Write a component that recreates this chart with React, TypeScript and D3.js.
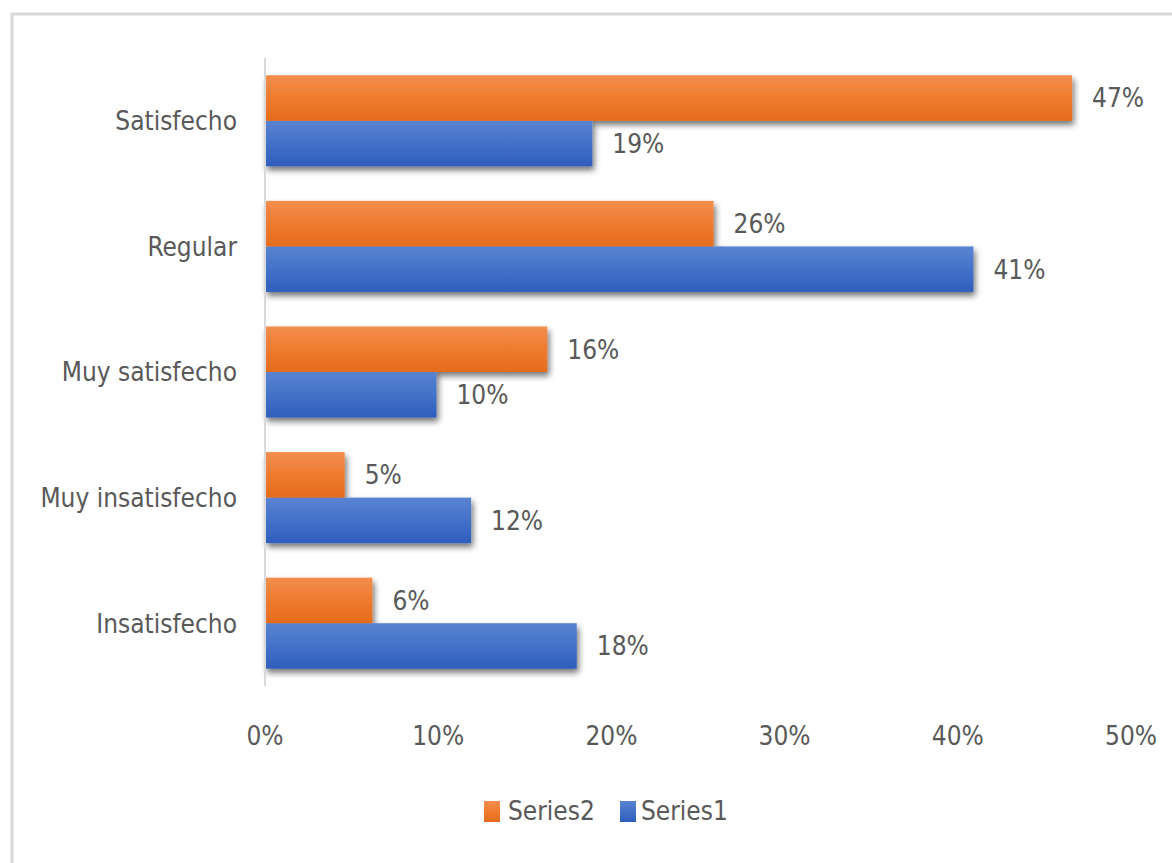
import React from "react";
import * as d3 from "d3";

const categories = ["Satisfecho", "Regular", "Muy satisfecho", "Muy insatisfecho", "Insatisfecho"];
const series2 = [0.466, 0.259, 0.163, 0.046, 0.062];
const series1 = [0.189, 0.409, 0.099, 0.119, 0.18];
const labels2 = ["47%", "26%", "16%", "5%", "6%"];
const labels1 = ["19%", "41%", "10%", "12%", "18%"];
const xTicks = [0, 0.1, 0.2, 0.3, 0.4, 0.5];
const seriesNames = ["Series2", "Series1"];

const FONT = "'Liberation Sans Narrow', 'DejaVu Sans Condensed', 'Arial Narrow', sans-serif";
const TEXT = "#595959";

export default function App() {
  const W = 1172, H = 863;
  const x = d3.scaleLinear().domain([0, 0.5]).range([265, 1131]);
  const y = d3.scaleBand<string>().domain(categories).range([58, 686]).paddingInner(0.275).paddingOuter(0.1375);
  const sub = d3.scaleBand<string>().domain(seriesNames).range([0, y.bandwidth()]);
  const fmt = d3.format(".0%");
  return (
    <svg width={W} height={H} style={{ position: "absolute", left: 0, top: 0, background: "#fff" }} fontFamily={FONT}>
      <defs>
        <linearGradient id="gO" x1="0" y1="0" x2="0" y2="1">
          <stop offset="0" stopColor="#f28e4f" />
          <stop offset="0.5" stopColor="#ef7b2f" />
          <stop offset="1" stopColor="#e56b1c" />
        </linearGradient>
        <linearGradient id="gB" x1="0" y1="0" x2="0" y2="1">
          <stop offset="0" stopColor="#5a83d2" />
          <stop offset="0.5" stopColor="#4371c8" />
          <stop offset="1" stopColor="#2f5ebd" />
        </linearGradient>
        <filter id="sh" x="-5%" y="-20%" width="115%" height="160%">
          <feGaussianBlur in="SourceAlpha" stdDeviation="3" />
          <feOffset dx="2" dy="4" result="b" />
          <feComponentTransfer><feFuncA type="linear" slope="0.55" /></feComponentTransfer>
          <feMerge><feMergeNode /><feMergeNode in="SourceGraphic" /></feMerge>
        </filter>
      </defs>
      <rect x={12} y={14} width={1200} height={900} fill="#fff" stroke="#d9d9d9" strokeWidth={3} />
      {categories.map((c, i) => {
        const y0 = y(c)!;
        const yO = y0 + sub("Series2")!;
        const yB = y0 + sub("Series1")!;
        const bh = sub.bandwidth();
        return (
          <g key={c}>
            <g filter="url(#sh)">
              <rect x={x(0)} y={yB} width={x(series1[i]) - x(0)} height={bh} fill="url(#gB)" />
              <rect x={x(0)} y={yO} width={x(series2[i]) - x(0)} height={bh} fill="url(#gO)" />
            </g>
            <text x={x(series2[i]) + 20} y={yO + bh / 2} dy="0.36em" fontSize={26} fill={TEXT}>{labels2[i]}</text>
            <text x={x(series1[i]) + 20} y={yB + bh / 2} dy="0.36em" fontSize={26} fill={TEXT}>{labels1[i]}</text>
            <text x={237} y={y0 + y.bandwidth() / 2} dy="0.36em" fontSize={26} fill={TEXT} textAnchor="end">{c}</text>
          </g>
        );
      })}
      <line x1={x(0)} x2={x(0)} y1={58} y2={686} stroke="#d9d9d9" strokeWidth={2} />
      {xTicks.map((t) => (
        <text key={t} x={x(t)} y={736} dy="0.36em" fontSize={26} fill={TEXT} textAnchor="middle">{fmt(t)}</text>
      ))}
      <g>
        <rect x={484} y={801} width={16} height={21} fill="url(#gO)" />
        <text x={508} y={811} dy="0.36em" fontSize={26} fill={TEXT}>{seriesNames[0]}</text>
        <rect x={620} y={801} width={16} height={21} fill="url(#gB)" />
        <text x={641} y={811} dy="0.36em" fontSize={26} fill={TEXT}>{seriesNames[1]}</text>
      </g>
    </svg>
  );
}
